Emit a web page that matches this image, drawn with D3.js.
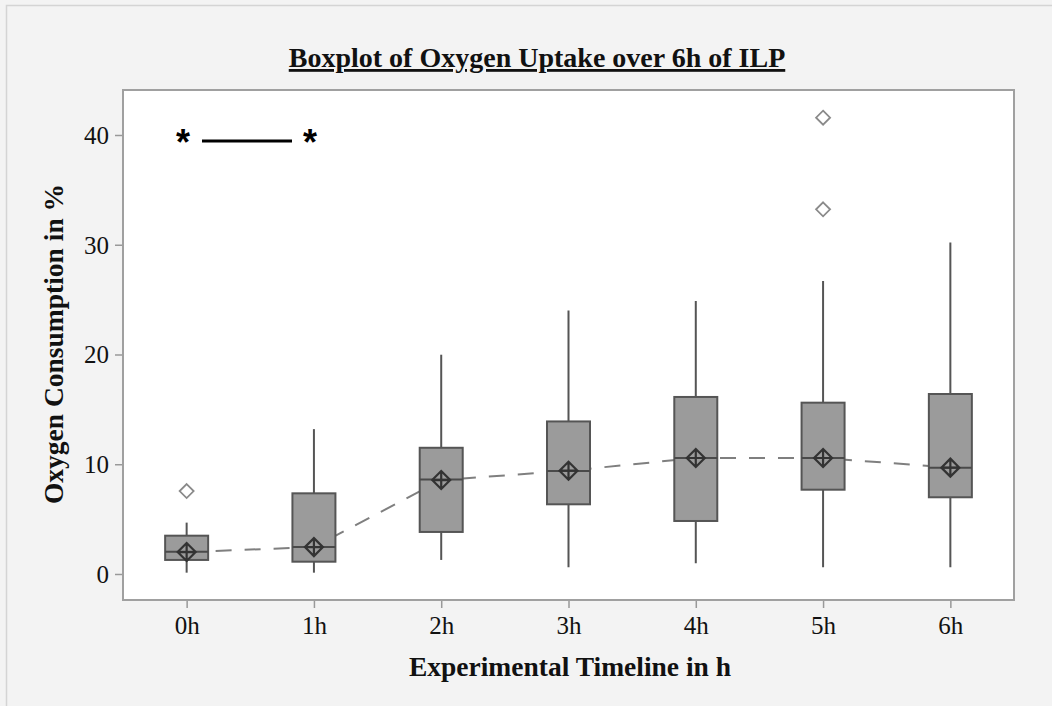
<!DOCTYPE html>
<html>
<head>
<meta charset="utf-8">
<script src="https://cdn.jsdelivr.net/npm/d3@7"></script>
<style>
  body { margin: 0; background: #f3f3f3; }
  svg { display: block; }
  text { font-family: "Liberation Serif", "Times New Roman", serif; }
</style>
</head>
<body>
<div id="chart"></div>
<script>
var width = 1052;
var height = 706;

// time points
var hours = ["0h", "1h", "2h", "3h", "4h", "5h", "6h"];
// box stats
var whiskerLow  = [0.12, 0.12, 1.28, 0.61, 0.97, 0.61, 0.61];
var q1          = [1.28, 1.12, 3.83, 6.35, 4.83, 7.68, 6.99];
var medians     = [2.03, 2.46, 8.60, 9.38, 10.57, 10.57, 9.69];
var q3          = [3.49, 7.35, 11.50, 13.90, 16.13, 15.61, 16.40];
var whiskerHigh = [4.68, 13.20, 19.98, 24.00, 24.87, 26.70, 30.20];
var means       = [2.00, 2.45, 8.56, 9.41, 10.57, 10.57, 9.69];
var outliers = [
  {hour: "0h", value: 7.56},
  {hour: "5h", value: 33.23},
  {hour: "5h", value: 41.58}
];
var yTicks = [0, 10, 20, 30, 40];

var margin = {left: 123, right: 1014, top: 90, bottom: 600};

var svg = d3.select("#chart").append("svg")
  .attr("width", width)
  .attr("height", height);

// outer frame
svg.append("rect")
  .attr("x", 0).attr("y", 0)
  .attr("width", width).attr("height", height)
  .attr("fill", "#f3f3f3");
svg.append("path")
  .attr("d", "M6.5," + height + "V5.5H" + width)
  .attr("fill", "none")
  .attr("stroke", "#d4d4d4")
  .attr("stroke-width", 1.5);

var xScale = d3.scalePoint().domain(hours)
  .range([margin.left, margin.right]).padding(0.5);
var yScale = d3.scaleLinear().domain([-2.37, 44.1])
  .range([margin.bottom, margin.top]);

// plot area
svg.append("rect")
  .attr("x", margin.left).attr("y", margin.top)
  .attr("width", margin.right - margin.left)
  .attr("height", margin.bottom - margin.top)
  .attr("fill", "#ffffff")
  .attr("stroke", "#a0a0a0")
  .attr("stroke-width", 2);

// axes
var xAxis = d3.axisBottom(xScale).tickSize(7).tickPadding(8);
var yAxis = d3.axisLeft(yScale).tickValues(yTicks).tickSize(7).tickPadding(6);

var gx = svg.append("g")
  .attr("transform", "translate(0," + (margin.bottom + 1) + ")")
  .call(xAxis);
var gy = svg.append("g")
  .attr("transform", "translate(" + (margin.left - 1) + ",0)")
  .call(yAxis);
[gx, gy].forEach(function(g) {
  g.select(".domain").remove();
  g.selectAll(".tick line").attr("stroke", "#999").attr("stroke-width", 1.5);
  g.selectAll(".tick text")
    .attr("fill", "#111")
    .style("font-family", "Liberation Serif, serif")
    .style("font-size", "25px");
});
gy.selectAll(".tick text").attr("dy", "0.34em");

// mean connect line (behind boxes)
var line = d3.line()
  .x(function(d, i) { return xScale(hours[i]); })
  .y(function(d) { return yScale(d); });
svg.append("path")
  .datum(means)
  .attr("d", line)
  .attr("fill", "none")
  .attr("stroke", "#7f7f7f")
  .attr("stroke-width", 2)
  .attr("stroke-dasharray", "16,13");

var boxW = 43;
var boxes = svg.selectAll(".box")
  .data(hours)
  .enter().append("g")
  .attr("class", "box");

// whiskers
boxes.append("line")
  .attr("x1", function(d) { return xScale(d); })
  .attr("x2", function(d) { return xScale(d); })
  .attr("y1", function(d, i) { return yScale(whiskerHigh[i]); })
  .attr("y2", function(d, i) { return yScale(whiskerLow[i]); })
  .attr("stroke", "#555")
  .attr("stroke-width", 2);

boxes.append("rect")
  .attr("x", function(d) { return xScale(d) - boxW / 2; })
  .attr("y", function(d, i) { return yScale(q3[i]); })
  .attr("width", boxW)
  .attr("height", function(d, i) { return yScale(q1[i]) - yScale(q3[i]); })
  .attr("fill", "#9b9b9b")
  .attr("stroke", "#555")
  .attr("stroke-width", 2);

boxes.append("line")
  .attr("x1", function(d) { return xScale(d) - boxW / 2; })
  .attr("x2", function(d) { return xScale(d) + boxW / 2; })
  .attr("y1", function(d, i) { return yScale(medians[i]); })
  .attr("y2", function(d, i) { return yScale(medians[i]); })
  .attr("stroke", "#4a4a4a")
  .attr("stroke-width", 2);

// mean markers: diamond with a cross
var m = 9;
boxes.append("path")
  .attr("d", function(d, i) {
    var cx = xScale(d), cy = yScale(means[i]);
    return "M" + cx + "," + (cy - m) + "L" + (cx + m) + "," + cy +
      "L" + cx + "," + (cy + m) + "L" + (cx - m) + "," + cy + "Z" +
      "M" + cx + "," + (cy - m) + "V" + (cy + m) +
      "M" + (cx - m) + "," + cy + "H" + (cx + m);
  })
  .attr("fill", "none")
  .attr("stroke", "#333")
  .attr("stroke-width", 2.2);

// outliers
var o = 7;
svg.selectAll(".outlier")
  .data(outliers)
  .enter().append("path")
  .attr("class", "outlier")
  .attr("d", function(d) {
    var cx = xScale(d.hour), cy = yScale(d.value);
    return "M" + cx + "," + (cy - o) + "L" + (cx + o) + "," + cy +
      "L" + cx + "," + (cy + o) + "L" + (cx - o) + "," + cy + "Z";
  })
  .attr("fill", "#fff")
  .attr("stroke", "#8a8a8a")
  .attr("stroke-width", 1.8);

// significance marker
svg.append("text")
  .attr("x", 183).attr("y", 155)
  .attr("text-anchor", "middle")
  .style("font-family", "Liberation Sans, Arial, sans-serif")
  .style("font-weight", "bold")
  .style("font-size", "36px")
  .text("*");
svg.append("line")
  .attr("x1", 202).attr("x2", 292)
  .attr("y1", 141).attr("y2", 141)
  .attr("stroke", "#000")
  .attr("stroke-width", 3);
svg.append("text")
  .attr("x", 310).attr("y", 155)
  .attr("text-anchor", "middle")
  .style("font-family", "Liberation Sans, Arial, sans-serif")
  .style("font-weight", "bold")
  .style("font-size", "36px")
  .text("*");

// title
svg.append("text")
  .attr("x", 537).attr("y", 67)
  .attr("text-anchor", "middle")
  .style("font-weight", "bold")
  .style("font-size", "28px")
  .style("text-decoration", "underline")
  .attr("fill", "#111")
  .text("Boxplot of Oxygen Uptake over 6h of ILP");

// axis titles
svg.append("text")
  .attr("x", 570).attr("y", 676)
  .attr("text-anchor", "middle")
  .style("font-weight", "bold")
  .style("font-size", "27.5px")
  .attr("fill", "#111")
  .text("Experimental Timeline in h");

svg.append("text")
  .attr("transform", "translate(63,344) rotate(-90)")
  .attr("text-anchor", "middle")
  .style("font-weight", "bold")
  .style("font-size", "27.5px")
  .attr("fill", "#111")
  .text("Oxygen Consumption in %");
</script>
</body>
</html>
